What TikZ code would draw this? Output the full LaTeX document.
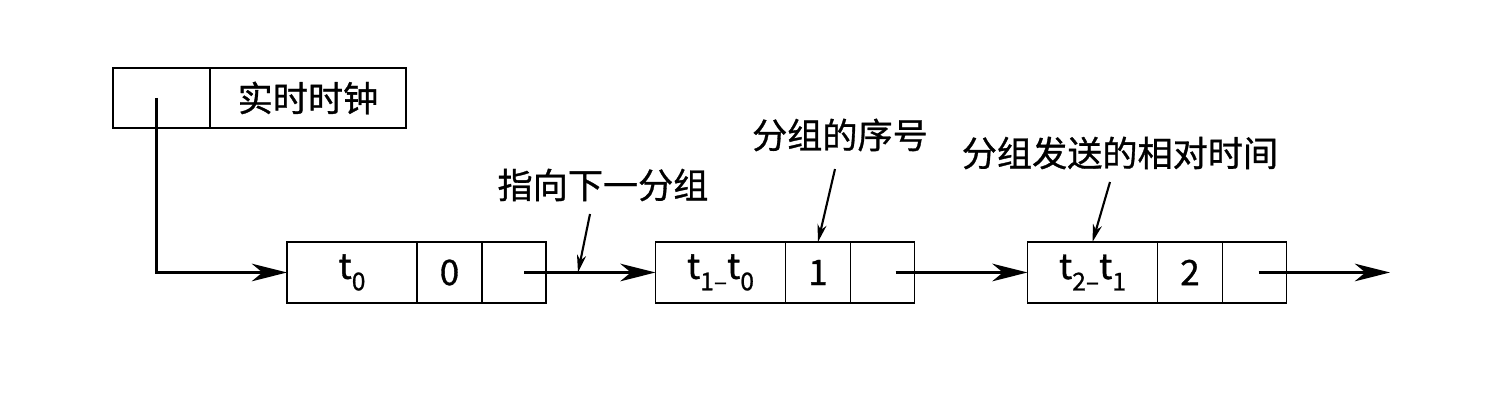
\documentclass[tikz,border=0pt]{standalone}
\usepackage{fontspec}
\setmainfont{Noto Sans CJK SC}[FakeBold=0.9]
\usepackage{tikz}
\usetikzlibrary{positioning,arrows.meta,calc}
\newcommand{\lowsub}[1]{\raisebox{-0.6ex}{\scriptsize #1}}

\begin{document}
\begin{tikzpicture}[
    cell/.style={draw, line width=0.5pt, minimum height=0.61cm, inner sep=0pt, outer sep=0pt, font=\fontsize{10}{12}\selectfont},
    link/.style={-{Stealth[length=10pt, width=5pt, inset=3pt]}, line width=0.9pt},
    tag/.style={-{Stealth[length=5pt, width=2.6pt, inset=1.5pt]}, line width=0.6pt},
    note/.style={font=\fontsize{10}{12}\selectfont, inner sep=2pt},
]
\useasboundingbox (0,0) rectangle (15,4.02);

% === Clock record ===
\node[cell, minimum width=0.97cm, minimum height=0.6cm] (clkptr) at (1.615,3.04) {};
\node[cell, minimum width=1.96cm, minimum height=0.6cm, right=0pt of clkptr] (clktext) {实时时钟};

% === Packet 0 ===
\node[cell, minimum width=1.30cm] (p0time) at (3.52,1.295) {t\lowsub{0}};
\node[cell, minimum width=0.65cm, right=0pt of p0time] (p0seq) {0};
\node[cell, minimum width=0.64cm, right=0pt of p0seq] (p0ptr) {};

% === Packet 1 ===
\node[cell, minimum width=1.30cm] (p1time) at (7.205,1.295) {t\lowsub{1–}t\lowsub{0}};
\node[cell, minimum width=0.65cm, right=0pt of p1time] (p1seq) {1};
\node[cell, minimum width=0.64cm, right=0pt of p1seq] (p1ptr) {};

% === Packet 2 ===
\node[cell, minimum width=1.30cm] (p2time) at (10.925,1.295) {t\lowsub{2–}t\lowsub{1}};
\node[cell, minimum width=0.65cm, right=0pt of p2time] (p2seq) {2};
\node[cell, minimum width=0.64cm, right=0pt of p2seq] (p2ptr) {};
\coordinate (tail) at (13.90,1.295);

% Links
\draw[link] ([xshift=-0.5mm]clkptr.center) |- (p0time.west);
\draw[link] ([xshift=1mm]p0ptr.center) -- (p1time.west);
\draw[link] ([xshift=1.3mm]p1ptr.center) -- (p2time.west);
\draw[link] ([xshift=0.4mm]p2ptr.center) -- (tail);

% Notes
\node[note] (nnext) at (6.03,2.17) {指向下一分组};
\node[note] (nseq) at (8.40,2.67) {分组的序号};
\node[note] (ntime) at (11.20,2.49) {分组发送的相对时间};
\coordinate (nexthit) at (5.78,1.295);
\draw[tag] ([xshift=-1.3mm,yshift=-0.5mm]nnext.south) -- (nexthit);
\draw[tag] ([xshift=-0.5mm,yshift=-1mm]nseq.south) -- (p1seq.north);
\draw[tag] ([xshift=-1mm,yshift=-0.5mm]ntime.south) -- (p2time.north);

\end{tikzpicture}
\end{document}
